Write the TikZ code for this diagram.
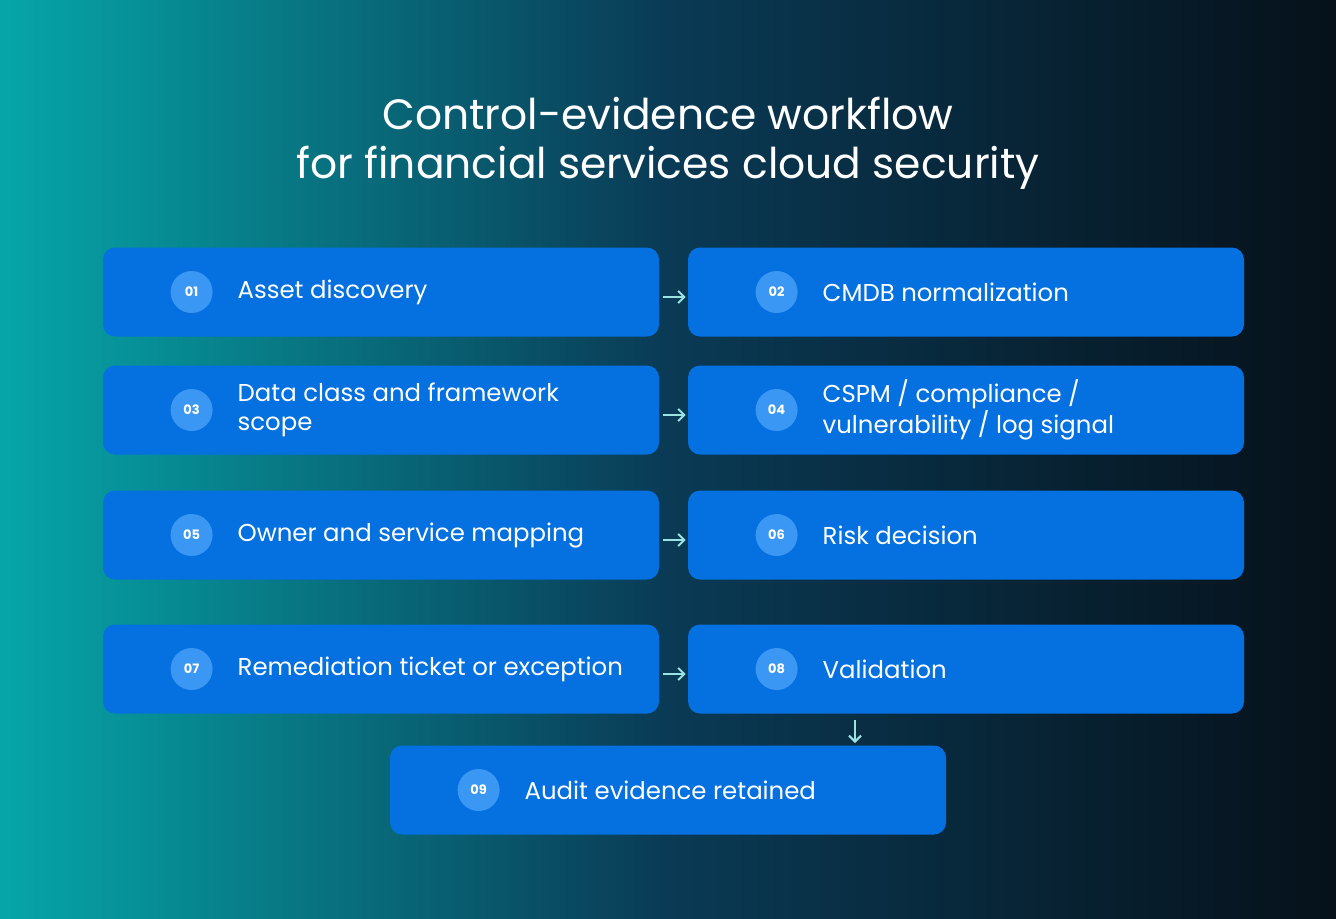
\documentclass[tikz,border=0pt]{standalone}
\usepackage{fontspec}
\setmainfont{Poppins}
\usetikzlibrary{arrows.meta}
\definecolor{boxc}{HTML}{0570DF}
\definecolor{badgec}{HTML}{3B97F4}
\definecolor{arrc}{HTML}{9BE3E3}
\definecolor{teal}{HTML}{06A6A8}
\definecolor{navy}{HTML}{0A3A55}
\definecolor{dark}{HTML}{06111A}
\tikzset{
  stepbox/.style={fill=boxc,rounded corners=6pt,minimum width=278pt,minimum height=44.5pt,inner sep=0pt},
  badge/.style={circle,fill=badgec,minimum size=21pt,inner sep=0pt,text=white,font=\fontsize{6.5}{7}\selectfont\bfseries},
  lbl/.style={anchor=west,text=white,align=left,font=\fontsize{12.2}{14.5}\selectfont\mdseries},
  flow/.style={draw=arrc,line width=1pt,-{Straight Barb[length=3pt,width=6pt]}}
}
\begin{document}
\begin{tikzpicture}[x=0.5pt,y=-0.5pt]
\useasboundingbox (0,0) rectangle (1336,918);
\shade[left color=teal,right color=dark,middle color=navy] (0,0) rectangle (1336,918);
\node[text=white,align=center,font=\fontsize{21.2}{24.5}\selectfont\mdseries] (title) at (668,143)
  {Control-evidence workflow\\for financial services cloud security};
\node[stepbox] (s1) at (381,292) {};
\node[stepbox] (s2) at (966,292) {};
\node[stepbox] (s3) at (381,410) {};
\node[stepbox] (s4) at (966,410) {};
\node[stepbox] (s5) at (381,535) {};
\node[stepbox] (s6) at (966,535) {};
\node[stepbox] (s7) at (381,669) {};
\node[stepbox] (s8) at (966,669) {};
\node[stepbox] (s9) at (668,790) {};
\foreach \n/\num/\t in {s1/01/{Asset discovery},s2/02/{CMDB normalization},s3/03/{Data class and framework\\scope},s4/04/{CSPM / compliance /\\vulnerability / log signal},s5/05/{Owner and service mapping},s6/06/{Risk decision},s7/07/{Remediation ticket or exception},s8/08/{Validation},s9/09/{Audit evidence retained}}{
  \node[badge] (\n b) at ([xshift=44.5pt]\n.west) {\num};
  \node[lbl] (\n t) at ([xshift=64pt]\n.west) {\t};
}
\foreach \a/\b in {s1/s2,s3/s4,s5/s6,s7/s8}{
  \draw[flow] ([xshift=2pt,yshift=-2.5pt]\a.east) -- ([xshift=-1pt,yshift=-2.5pt]\b.west);
}
\coordinate (d1) at (855,720);
\coordinate (d2) at (855,743);
\draw[flow] (d1) -- (d2);
\end{tikzpicture}
\end{document}
